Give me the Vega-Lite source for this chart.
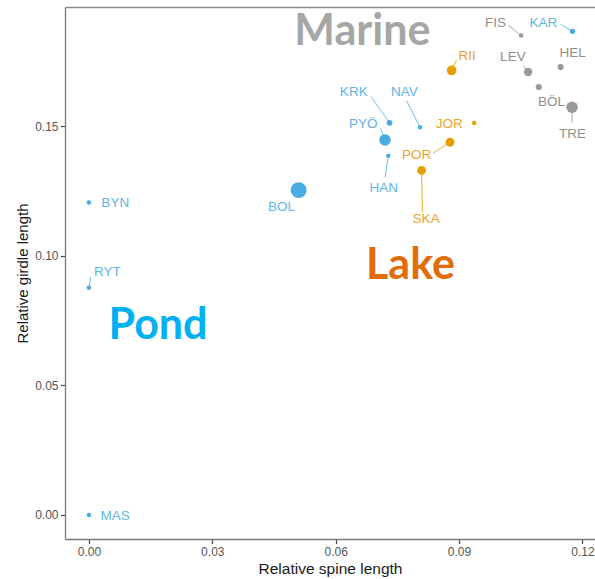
{
  "$schema": "https://vega.github.io/schema/vega-lite/v6.json",
  "width": 530,
  "height": 532,
  "autosize": {"type": "none"},
  "padding": {"left": 65, "top": 7, "right": 0, "bottom": 40},
  "background": "white",
  "config": {
    "view": {"stroke": null},
    "axis": {
      "grid": false,
      "domainColor": "#7a7a7a",
      "domainWidth": 1.3,
      "tickColor": "#444444",
      "tickWidth": 1.2,
      "tickSize": 4.5,
      "labelFont": "Liberation Sans",
      "labelFontSize": 12,
      "labelColor": "#555555",
      "labelPadding": 2.5,
      "labelFlush": false,
      "labelOverlap": false,
      "titleFont": "Liberation Sans",
      "titleFontWeight": "normal",
      "titleColor": "#1a1a1a"
    }
  },
  "datasets": {
    "sites": [
      {"site": "MAS", "habitat": "Pond", "x": 0.0, "y": 0.0, "n": 8, "label_x": 0.0064, "label_y": -0.0003, "seg_x": null, "seg_y": null},
      {"site": "RYT", "habitat": "Pond", "x": 0.0, "y": 0.0877, "n": 8, "label_x": 0.0045, "label_y": 0.0937, "seg_x": 0.0004, "seg_y": 0.0920},
      {"site": "BYN", "habitat": "Pond", "x": 0.0, "y": 0.1206, "n": 8, "label_x": 0.0064, "label_y": 0.1204, "seg_x": null, "seg_y": null},
      {"site": "BOL", "habitat": "Pond", "x": 0.0510, "y": 0.1254, "n": 100, "label_x": 0.0468, "label_y": 0.1188, "seg_x": null, "seg_y": null},
      {"site": "HAN", "habitat": "Pond", "x": 0.0728, "y": 0.1387, "n": 8, "label_x": 0.0717, "label_y": 0.1263, "seg_x": 0.0720, "seg_y": 0.1302},
      {"site": "PYÖ", "habitat": "Pond", "x": 0.0720, "y": 0.1448, "n": 52, "label_x": 0.0667, "label_y": 0.1510, "seg_x": 0.0709, "seg_y": 0.1495},
      {"site": "KRK", "habitat": "Pond", "x": 0.0731, "y": 0.1514, "n": 13, "label_x": 0.0644, "label_y": 0.1631, "seg_x": 0.0686, "seg_y": 0.1615},
      {"site": "NAV", "habitat": "Pond", "x": 0.0805, "y": 0.1497, "n": 8, "label_x": 0.0767, "label_y": 0.1631, "seg_x": 0.0773, "seg_y": 0.1598},
      {"site": "KAR", "habitat": "Pond", "x": 0.1176, "y": 0.1867, "n": 11, "label_x": 0.1105, "label_y": 0.1899, "seg_x": 0.1147, "seg_y": 0.1894},
      {"site": "SKA", "habitat": "Lake", "x": 0.0809, "y": 0.1330, "n": 31, "label_x": 0.0820, "label_y": 0.1143, "seg_x": 0.0811, "seg_y": 0.1169},
      {"site": "POR", "habitat": "Lake", "x": 0.0878, "y": 0.1439, "n": 31, "label_x": 0.0797, "label_y": 0.1388, "seg_x": 0.0837, "seg_y": 0.1397},
      {"site": "JOR", "habitat": "Lake", "x": 0.0937, "y": 0.1513, "n": 8, "label_x": 0.0876, "label_y": 0.1508, "seg_x": null, "seg_y": null},
      {"site": "RII", "habitat": "Lake", "x": 0.0882, "y": 0.1716, "n": 37, "label_x": 0.0920, "label_y": 0.1773, "seg_x": 0.0894, "seg_y": 0.1757},
      {"site": "FIS", "habitat": "Marine", "x": 0.1051, "y": 0.1851, "n": 8, "label_x": 0.0989, "label_y": 0.1899, "seg_x": 0.1020, "seg_y": 0.1890},
      {"site": "HEL", "habitat": "Marine", "x": 0.1147, "y": 0.1729, "n": 15, "label_x": 0.1176, "label_y": 0.1783, "seg_x": null, "seg_y": null},
      {"site": "LEV", "habitat": "Marine", "x": 0.1068, "y": 0.1710, "n": 28, "label_x": 0.1031, "label_y": 0.1767, "seg_x": 0.1056, "seg_y": 0.1735},
      {"site": "BÖL", "habitat": "Marine", "x": 0.1094, "y": 0.1652, "n": 15, "label_x": 0.1125, "label_y": 0.1594, "seg_x": null, "seg_y": null},
      {"site": "TRE", "habitat": "Marine", "x": 0.1175, "y": 0.1574, "n": 52, "label_x": 0.1176, "label_y": 0.1472, "seg_x": 0.1175, "seg_y": 0.1515}
    ],
    "habitats": [
      {"name": "Marine", "x": 0.0665, "y": 0.1813},
      {"name": "Lake", "x": 0.0782, "y": 0.0912},
      {"name": "Pond", "x": 0.0168, "y": 0.0680}
    ]
  },
  "layer": [
    {
      "data": {"name": "sites"},
      "transform": [{"filter": "datum.seg_x != null"}],
      "mark": {"type": "rule", "strokeWidth": 1, "opacity": 0.85},
      "encoding": {
        "x": {
          "field": "x", "type": "quantitative",
          "scale": {"domain": [-0.00582, 0.12307], "nice": false, "zero": false},
          "axis": {"values": [0, 0.03, 0.06, 0.09, 0.12], "format": ".2f", "title": "Relative spine length", "titleFontSize": 15.5, "titlePadding": 4}
        },
        "y": {
          "field": "y", "type": "quantitative",
          "scale": {"domain": [-0.00927, 0.1961], "nice": false, "zero": false},
          "axis": {"values": [0, 0.05, 0.1, 0.15], "format": ".2f", "title": "Relative girdle length", "titleFontSize": 15, "titlePadding": 4}
        },
        "x2": {"field": "seg_x"},
        "y2": {"field": "seg_y"},
        "color": {
          "field": "habitat", "type": "nominal",
          "scale": {"domain": ["Pond", "Lake", "Marine"], "range": ["#56B4E9", "#E69F00", "#999999"]},
          "legend": null
        }
      }
    },
    {
      "data": {"name": "sites"},
      "mark": {"type": "circle", "opacity": 1},
      "encoding": {
        "x": {"field": "x", "type": "quantitative", "axis": null},
        "y": {"field": "y", "type": "quantitative", "axis": null},
        "size": {
          "field": "n", "type": "quantitative",
          "scale": {"type": "linear", "domain": [0, 100], "range": [0, 254]},
          "legend": null
        },
        "color": {
          "field": "habitat", "type": "nominal",
          "scale": {"domain": ["Pond", "Lake", "Marine"], "range": ["#4AABE5", "#E69F00", "#999999"]},
          "legend": null
        }
      }
    },
    {
      "data": {"name": "sites"},
      "mark": {"type": "text", "font": "Liberation Sans", "fontSize": 13.5, "align": "center", "baseline": "middle"},
      "encoding": {
        "x": {"field": "label_x", "type": "quantitative", "axis": null},
        "y": {"field": "label_y", "type": "quantitative", "axis": null},
        "text": {"field": "site"},
        "color": {
          "field": "habitat", "type": "nominal",
          "scale": {"domain": ["Pond", "Lake", "Marine"], "range": ["#62B5E6", "#E8A42A", "#8F8F8F"]},
          "legend": null
        }
      }
    },
    {
      "data": {"name": "habitats"},
      "mark": {"type": "text", "font": "Lato", "fontWeight": "bold", "fontSize": 43, "align": "center", "baseline": "alphabetic"},
      "encoding": {
        "x": {
          "field": "x", "type": "quantitative",
          "axis": {"orient": "top", "labels": false, "ticks": false, "title": null, "domainColor": "#8a8a8a"}
        },
        "y": {"field": "y", "type": "quantitative", "axis": null},
        "text": {"field": "name"},
        "color": {
          "field": "name", "type": "nominal",
          "scale": {"domain": ["Marine", "Lake", "Pond"], "range": ["#A6A6A6", "#E36C0A", "#00B0F0"]},
          "legend": null
        }
      }
    }
  ],
  "resolve": {"scale": {"color": "independent"}, "axis": {"x": "independent", "y": "independent"}}
}
